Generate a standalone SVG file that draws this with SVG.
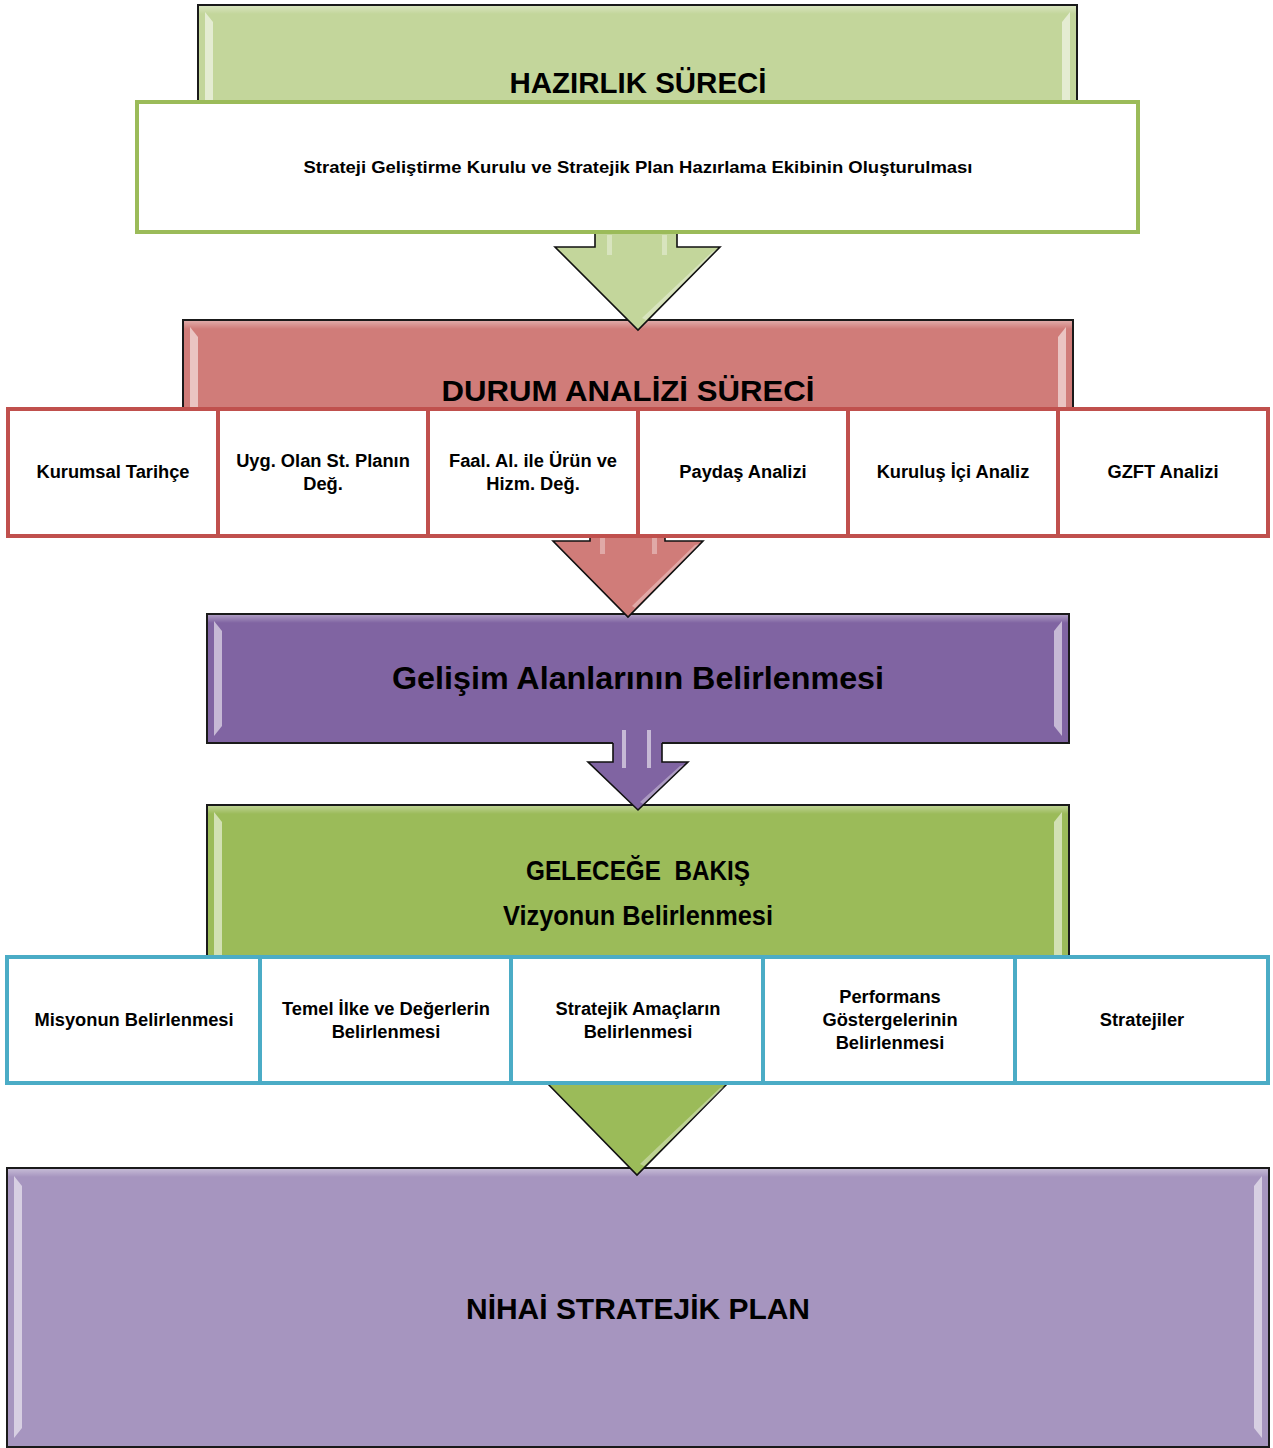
<svg xmlns="http://www.w3.org/2000/svg" width="1273" height="1448" viewBox="0 0 1273 1448">
<defs>
<style>
text{font-family:"Liberation Sans",Arial,sans-serif;font-weight:bold;fill:#000;text-anchor:middle}
.hdr{stroke:#1a1a1a;stroke-width:2}
.t30{font-size:30px}
.t32{font-size:32px}
.t27{font-size:27px}
.c{font-size:18.3px}
.cellR{fill:#fff;stroke:#C0504D;stroke-width:4}
.cellB{fill:#fff;stroke:#4BACC6;stroke-width:4}
.out{fill:none;stroke:#111;stroke-width:1.6;stroke-linejoin:miter}
.hl{fill:#fff;opacity:0.55}
.hl2{fill:#fff;opacity:0.35}
</style>
<linearGradient id="topg" x1="0" y1="0" x2="0" y2="1">
<stop offset="0" stop-color="#fff" stop-opacity="0.35"/>
<stop offset="1" stop-color="#fff" stop-opacity="0"/>
</linearGradient>
</defs>

<!-- Header nodes -->
<g id="hazirlik">
<rect class="hdr" x="198" y="5" width="879" height="110" fill="#C3D69B"/>
<rect x="199" y="6" width="877" height="8" fill="url(#topg)"/>
<path class="hl" d="M205 12 L213 22 L213 110 L205 110 Z"/>
<path class="hl" d="M1070 12 L1062 22 L1062 110 L1070 110 Z"/>
<text class="t30" x="638" y="93" textLength="257" lengthAdjust="spacingAndGlyphs">HAZIRLIK SÜRECİ</text>
</g>

<g id="durum">
<rect class="hdr" x="183" y="320" width="890" height="100" fill="#D07C79"/>
<rect x="184" y="321" width="888" height="8" fill="url(#topg)"/>
<path class="hl" d="M190 327 L198 337 L198 415 L190 415 Z"/>
<path class="hl" d="M1066 327 L1058 337 L1058 415 L1066 415 Z"/>
<text class="t30" x="628" y="401" textLength="373" lengthAdjust="spacingAndGlyphs">DURUM ANALİZİ SÜRECİ</text>
</g>

<g id="gelisim">
<rect class="hdr" x="207" y="614" width="862" height="129" fill="#8064A2"/>
<rect x="208" y="615" width="860" height="8" fill="url(#topg)"/>
<path class="hl" d="M214 621 L222 631 L222 726 L214 736 Z"/>
<path class="hl" d="M1062 621 L1054 631 L1054 726 L1062 736 Z"/>
<text class="t32" x="638" y="689" textLength="492" lengthAdjust="spacingAndGlyphs">Gelişim Alanlarının Belirlenmesi</text>
</g>

<g id="gelecege">
<rect class="hdr" x="207" y="805" width="862" height="160" fill="#9BBB59"/>
<rect x="208" y="806" width="860" height="8" fill="url(#topg)"/>
<path class="hl" d="M214 812 L222 822 L222 960 L214 960 Z"/>
<path class="hl" d="M1062 812 L1054 822 L1054 960 L1062 960 Z"/>
<text class="t27" x="638" y="880" xml:space="preserve" style="white-space:pre" textLength="224" lengthAdjust="spacingAndGlyphs">GELECEĞE  BAKIŞ</text>
<text class="t27" x="638" y="925" textLength="270" lengthAdjust="spacingAndGlyphs">Vizyonun Belirlenmesi</text>
</g>

<g id="nihai">
<rect class="hdr" x="7" y="1168" width="1262" height="279" fill="#A695BF"/>
<rect x="8" y="1169" width="1260" height="8" fill="url(#topg)"/>
<path class="hl" d="M14 1176 L22 1186 L22 1428 L14 1438 Z"/>
<path class="hl" d="M1262 1176 L1254 1186 L1254 1428 L1262 1438 Z"/>
<text class="t30" x="638" y="1319" textLength="344" lengthAdjust="spacingAndGlyphs">NİHAİ STRATEJİK PLAN</text>
</g>

<!-- Connectors -->
<g id="connectors">
<g id="arrow1">
<polygon points="595,225 677,225 677,247 720,247 638,330 555,247 595,247" fill="#C3D69B"/>
<polyline class="out" points="677,233 677,247 720,247 638,330 555,247 595,247 595,233"/>
<rect class="hl2" x="607" y="235" width="5" height="20"/>
<rect class="hl2" x="662" y="235" width="5" height="20"/>
<path class="hl2" d="M712 252 L716 250 L646 320 L642 318 Z"/>
</g>
<g id="arrow2">
<polygon points="590,530 665,530 665,541 703,541 628,617 553,541 590,541" fill="#D07C79"/>
<polyline class="out" points="665,536 665,541 703,541 628,617 553,541 590,541 590,536"/>
<rect class="hl2" x="600" y="538" width="5" height="16"/>
<rect class="hl2" x="652" y="538" width="5" height="16"/>
<path class="hl2" d="M695 545 L699 544 L635 608 L632 606 Z"/>
</g>
<g id="arrow3">
<polygon points="613,730 662,730 662,762 688,762 638,810 588,762 613,762" fill="#8064A2"/>
<polyline class="out" points="662,743 662,762 688,762 638,810 588,762 613,762 613,743"/>
<rect class="hl" x="622" y="730" width="4" height="38"/>
<rect class="hl" x="647" y="730" width="4" height="38"/>
<path class="hl2" d="M680 766 L684 765 L643 804 L640 802 Z"/>
</g>
<g id="arrow4">
<polygon points="590,1070 685,1070 685,1083 728,1083 637,1175 547,1083 590,1083" fill="#9BBB59"/>
<polyline class="out" points="728,1083 637,1175 547,1083"/>
<path class="hl2" d="M720 1088 L724 1087 L644 1166 L640 1164 Z"/>
</g>
</g>

<!-- Sub nodes -->
<g id="strateji-kurulu">
<rect x="137" y="102" width="1001" height="130" fill="#fff" stroke="#9BBB59" stroke-width="4"/>
<text class="c" x="638" y="173" style="font-size:17px" textLength="669" lengthAdjust="spacingAndGlyphs">Strateji Geliştirme Kurulu ve Stratejik Plan Hazırlama Ekibinin Oluşturulması</text>
</g>

<g id="kurumsal-tarihce">
<rect class="cellR" x="8" y="409" width="210" height="127"/>
<text class="c" x="113" y="478">Kurumsal Tarihçe</text>
</g>
<g id="uyg-plan">
<rect class="cellR" x="218" y="409" width="210" height="127"/>
<text class="c" x="323" y="467">Uyg. Olan St. Planın</text>
<text class="c" x="323" y="490">Değ.</text>
</g>
<g id="faal">
<rect class="cellR" x="428" y="409" width="210" height="127"/>
<text class="c" x="533" y="467">Faal. Al. ile Ürün ve</text>
<text class="c" x="533" y="490">Hizm. Değ.</text>
</g>
<g id="paydas">
<rect class="cellR" x="638" y="409" width="210" height="127"/>
<text class="c" x="743" y="478">Paydaş Analizi</text>
</g>
<g id="kurulus-ici">
<rect class="cellR" x="848" y="409" width="210" height="127"/>
<text class="c" x="953" y="478">Kuruluş İçi Analiz</text>
</g>
<g id="gzft">
<rect class="cellR" x="1058" y="409" width="210" height="127"/>
<text class="c" x="1163" y="478">GZFT Analizi</text>
</g>

<g id="misyon">
<rect class="cellB" x="7" y="957" width="253" height="126"/>
<text class="c" x="134" y="1026">Misyonun Belirlenmesi</text>
</g>
<g id="temel-ilke">
<rect class="cellB" x="260" y="957" width="251" height="126"/>
<text class="c" x="386" y="1015">Temel İlke ve Değerlerin</text>
<text class="c" x="386" y="1038">Belirlenmesi</text>
</g>
<g id="stratejik-amac">
<rect class="cellB" x="511" y="957" width="252" height="126"/>
<text class="c" x="638" y="1015">Stratejik Amaçların</text>
<text class="c" x="638" y="1038">Belirlenmesi</text>
</g>
<g id="performans">
<rect class="cellB" x="763" y="957" width="252" height="126"/>
<text class="c" x="890" y="1003">Performans</text>
<text class="c" x="890" y="1026">Göstergelerinin</text>
<text class="c" x="890" y="1049">Belirlenmesi</text>
</g>
<g id="stratejiler">
<rect class="cellB" x="1015" y="957" width="253" height="126"/>
<text class="c" x="1142" y="1026">Stratejiler</text>
</g>
</svg>
